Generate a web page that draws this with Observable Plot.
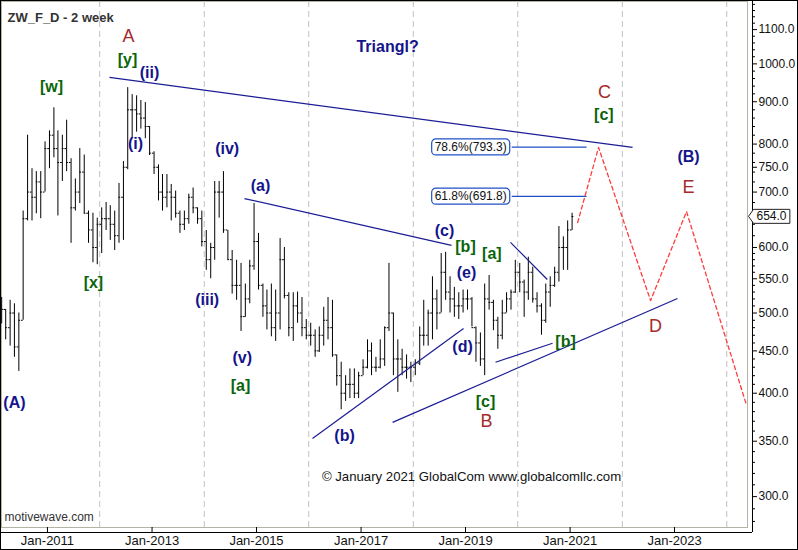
<!DOCTYPE html>
<html><head><meta charset="utf-8">
<script src="https://cdn.jsdelivr.net/npm/d3@7"></script>
<script src="https://cdn.jsdelivr.net/npm/@observablehq/plot@0.6"></script>
<style>
html,body{margin:0;padding:0;background:#fff;}
#chart{width:798px;height:550px;}
svg{display:block;}
</style></head><body><div id="chart"></div>
<script>
// ---- Data: monthly OHLC of ZW (wheat), Feb 2010 .. Jan 2021 ----
const firstMonth = {year: 2010, month: 1}; // Feb 2010 (0-based month)
const firstOpen = 510;
const highs = [522,505,518,513,500,664,820,747,741,741,805,
 830,885,830,820,855,768,726,790,776,664,660,651,
 670,680,674,664,717,762,936,918,915,903,898,840,
 783,755,735,735,715,702,664,664,696,708,670,664,
 629,607,721,721,741,629,595,579,574,542,579,678,
 624,542,533,542,533,615,600,529,529,530,522,491,
 486,477,481,508,522,518,445,436,420,428,428,424,
 439,464,460,442,464,481,574,500,464,452,445,436,
 439,481,518,504,553,533,590,592,553,537,529,533,
 533,522,481,473,542,555,518,494,518,529,533,579,
 574,548,584,568,529,513,542,553,568,636,618,646,
 660];
const lows = [485,464,456,442,425,490,646,646,659,650,700,
 747,770,655,721,741,607,664,678,659,607,575,572,
 590,629,612,595,607,612,745,812,827,834,812,775,
 735,683,664,670,646,651,624,629,640,659,640,601,
 563,550,579,651,624,579,527,518,475,494,513,563,
 533,494,477,468,462,477,520,468,462,486,468,464,
 456,442,448,456,464,442,408,382,391,394,394,394,
 420,428,420,424,428,431,475,420,401,420,416,412,
 420,432,456,456,464,477,500,518,500,494,491,500,
 504,481,436,431,420,504,476,452,464,500,504,528,
 529,494,518,514,500,470,486,508,537,545,563,563,
 629];
const closes = [505,480,500,455,490,650,700,690,720,700,790,
 820,790,760,790,760,670,700,740,660,630,600,640,
 650,650,640,620,690,750,880,880,870,860,840,780,
 750,700,690,700,690,660,640,650,690,670,650,610,
 580,600,700,700,630,580,540,540,495,520,570,610,
 540,510,500,480,500,580,525,480,510,500,480,470,
 470,450,470,490,480,445,420,400,410,410,400,420,
 430,450,430,430,440,480,500,440,440,430,430,430,
 435,470,470,500,520,500,560,530,520,510,510,520,
 520,480,460,440,520,515,490,470,500,520,530,560,
 545,530,560,520,510,490,530,540,560,600,600,630,
 654];
const lastPrice = 654;

// Elliott wave labels (decimal year, price, degree)
const waveLabels = [
 {label:"A", year:2012.55, price:1079, degree:"primary"},
 {label:"[y]", year:2012.531, price:1012, degree:"minor"},
 {label:"(ii)", year:2012.952, price:974, degree:"minute"},
 {label:"[w]", year:2011.077, price:939, degree:"minor"},
 {label:"(i)", year:2012.684, price:801, degree:"minute"},
 {label:"(iv)", year:2014.439, price:789.7, degree:"minute"},
 {label:"[x]", year:2011.88, price:543, degree:"minor"},
 {label:"(iii)", year:2014.056, price:518, degree:"minute"},
 {label:"(a)", year:2015.077, price:713, degree:"minute"},
 {label:"(v)", year:2014.726, price:441, degree:"minute"},
 {label:"[a]", year:2014.694, price:408.7, degree:"minor"},
 {label:"(A)", year:2010.368, price:389, degree:"minute"},
 {label:"(b)", year:2016.684, price:355.7, degree:"minute"},
 {label:"(c)", year:2018.598, price:628, degree:"minute"},
 {label:"[b]", year:2019.0, price:601, degree:"minor"},
 {label:"(e)", year:2019.019, price:559, degree:"minute"},
 {label:"[a]", year:2019.504, price:590, degree:"minor"},
 {label:"(d)", year:2018.943, price:455.6, degree:"minute"},
 {label:"[c]", year:2019.383, price:390, degree:"minor"},
 {label:"B", year:2019.402, price:369.6, degree:"primary"},
 {label:"[b]", year:2020.914, price:461, degree:"minor"},
 {label:"C", year:2021.66, price:925, degree:"primary"},
 {label:"[c]", year:2021.647, price:868, degree:"minor"},
 {label:"(B)", year:2023.268, price:771, degree:"minute"},
 {label:"E", year:2023.268, price:709, degree:"primary"},
 {label:"D", year:2022.636, price:481.6, degree:"primary"}
];
const chartTitle = "ZW_F_D - 2 week";
const noteLabel = {label:"Triangl?", year:2017.507, price:1049};
const copyright = {label:"© January 2021 GlobalCom www.globalcomllc.com", year:2019.115, price:317.3};
const watermark = "motivewave.com";

// trend lines (start year, start price, end year, end price)
const trendLines = [
 {y0:2012.187, p0:963, y1:2022.196, p1:792.5},
 {y0:2014.770, p0:687.5, y1:2018.732, p1:603.5},
 {y0:2016.072, p0:352.7, y1:2018.962, p1:478.9},
 {y0:2017.603, p0:368.8, y1:2023.057, p1:520.6},
 {y0:2019.574, p0:436, y1:2020.665, p1:459.7},
 {y0:2019.861, p0:608.6, y1:2020.565, p1:548.9}
];
// projected path
const projection = [
 {year:2021.144, price:643},
 {year:2021.545, price:792.5},
 {year:2022.541, price:517.6},
 {year:2023.230, price:663},
 {year:2024.378, price:386.8}
];
// Fibonacci levels
const fibLevels = [
 {pct:"78.6%", price:793.3, from:2019.885, to:2021.315},
 {pct:"61.8%", price:691.8, from:2019.885, to:2021.315}
];
const yMajorTicks = [300,350,400,450,500,550,600,700,750,800,900,1000,1100];
const xLabelYears = [2011,2013,2015,2017,2019,2021,2023];
const gridYears = [2012,2014,2016,2018,2020,2022,2024];

// ---- helpers ----
function yearDate(y){const yr=Math.floor(y);const a=Date.UTC(yr,0,1),b=Date.UTC(yr+1,0,1);return new Date(a+(y-yr)*(b-a));}
const DAY = 864e5;
const bars = highs.map((h,i)=>{
  const d = new Date(Date.UTC(firstMonth.year, firstMonth.month+i, 15));
  return {date:d, left:new Date(+d-12*DAY), right:new Date(+d+12*DAY), high:h, low:lows[i], open:i?closes[i-1]:firstOpen, close:closes[i]};
});
const yMinor = d3.range(280,600,10).concat(d3.range(600,1190,20)).filter(v=>!yMajorTicks.includes(v));

const NAVY="#14148c", GREEN="#0a650a", BROWN="#a52a2a";
const FONT = "Liberation Sans, Arial, sans-serif";
const colorOf = d => d.degree==="primary"?BROWN:(d.degree==="minor"?GREEN:NAVY);
const fibText = d => `${d.pct}(${d.price.toFixed(1)})`;

const chart = Plot.plot({
  width:798, height:550,
  marginLeft:1, marginTop:1, marginRight:51, marginBottom:23,
  style:{fontFamily:FONT, fontSize:"12px", background:"#fff", color:"#111"},
  x:{type:"utc", domain:[new Date(Date.UTC(2010,1,13,17)), new Date(Date.UTC(2024,4,25))]},
  y:{type:"log", domain:[275.3,1189.5]},
  marks:[
    Plot.frame({stroke:"#b4b4a4"}),
    Plot.ruleX(gridYears.map(y=>new Date(Date.UTC(y,0,1))), {stroke:"#c0c0c0", strokeDasharray:"6,4"}),
    Plot.ruleX(bars, {x:"date", y1:"low", y2:"high", stroke:"#000", strokeWidth:1}),
    Plot.ruleY(bars, {y:"open", x1:"left", x2:"date", stroke:"#000"}),
    Plot.ruleY(bars, {y:"close", x1:"date", x2:"right", stroke:"#000"}),
    Plot.link(trendLines, {x1:d=>yearDate(d.y0), y1:"p0", x2:d=>yearDate(d.y1), y2:"p1", stroke:"#1c1c96", strokeWidth:1.2}),
    Plot.link(fibLevels, {x1:d=>yearDate(d.from), x2:d=>yearDate(d.to), y1:"price", y2:"price", stroke:"#2050c8", strokeWidth:1.2}),
    Plot.line(projection, {x:d=>yearDate(d.year), y:"price", stroke:"#ff3c3c", strokeWidth:1.3, strokeDasharray:"4,3"}),
    Plot.text(fibLevels, {x:d=>yearDate(d.from), y:"price", text:fibText, textAnchor:"end", dx:-5, fontSize:12, fill:"#111"}),
    Plot.text(waveLabels.filter(d=>d.degree!=="primary"), {x:d=>yearDate(d.year), y:"price", text:"label", fill:colorOf, fontSize:16, fontWeight:"bold"}),
    Plot.text(waveLabels.filter(d=>d.degree==="primary"), {x:d=>yearDate(d.year), y:"price", text:"label", fill:colorOf, fontSize:18}),
    Plot.text([noteLabel], {x:d=>yearDate(d.year), y:"price", text:"label", fill:NAVY, fontSize:16, fontWeight:"bold"}),
    Plot.text([copyright], {x:d=>yearDate(d.year), y:"price", text:"label", fill:"#111", fontSize:13.2}),
    Plot.text([chartTitle], {frameAnchor:"top-left", dx:6, dy:11, text:d=>d, textAnchor:"start", fontSize:13, fontWeight:"bold", fill:"#333"}),
    Plot.text([watermark], {frameAnchor:"bottom-left", dx:3, dy:-7, text:d=>d, textAnchor:"start", fontSize:12, fill:"#333"}),
    Plot.ruleX([new Date(Date.UTC(2024,4,25))], {dx:5, insetTop:-1, insetBottom:-5, stroke:"#000"}),
    Plot.ruleY([275.3], {dy:5, insetLeft:-1, insetRight:-5, stroke:"#000"}),
    Plot.axisY({ticks:yMajorTicks, anchor:"right", tickSize:4, tickPadding:2, dx:5, tickFormat:d=>d.toFixed(1), fontSize:12, label:null, stroke:"#000", fill:"#111"}),
    Plot.axisY({ticks:yMinor, anchor:"right", tickSize:2, dx:5, fill:"none", label:null, stroke:"#000"}),
    Plot.axisX({ticks:xLabelYears.map(y=>new Date(Date.UTC(y,0,1))), anchor:"bottom", tickSize:5, tickPadding:3, tickFormat:d=>"Jan-"+d.getUTCFullYear(), fontSize:13, label:null, stroke:"#000", fill:"#111"}),
    Plot.text([lastPrice], {y:d=>d, frameAnchor:"right", dx:9, text:d=>d.toFixed(1), textAnchor:"start", fontSize:12, fill:"#111"})
  ]
});
document.getElementById("chart").append(chart);
const svg = d3.select(chart);
const fibStrings = fibLevels.map(fibText);
const lastString = lastPrice.toFixed(1);
svg.selectAll("text").filter(function(){return fibStrings.includes(this.textContent);}).each(function(){
  const bb=this.getBBox();
  d3.select(this.parentNode).insert("rect",()=>this)
    .attr("x",bb.x-3).attr("y",bb.y-1).attr("width",bb.width+6).attr("height",bb.height+2)
    .attr("rx",4).attr("fill","#fff").attr("stroke","#2050c8").attr("stroke-width",1.2)
    .attr("transform",this.getAttribute("transform"));
});
svg.selectAll("text").filter(function(){return this.textContent===lastString;}).each(function(){
  const bb=this.getBBox();
  const l=bb.x-3, r=bb.x+bb.width+3, t=bb.y, b=bb.y+bb.height, m=(t+b)/2;
  d3.select(this.parentNode).insert("path",()=>this)
    .attr("d",`M${l-5},${m}L${l},${t}H${r}V${b}H${l}Z`)
    .attr("fill","#fff").attr("stroke","#222").attr("stroke-width",1)
    .attr("transform",this.getAttribute("transform"));
});
svg.append("rect").attr("x",0.5).attr("y",0.5).attr("width",797).attr("height",549).attr("fill","none").attr("stroke","#000");
</script></body></html>
